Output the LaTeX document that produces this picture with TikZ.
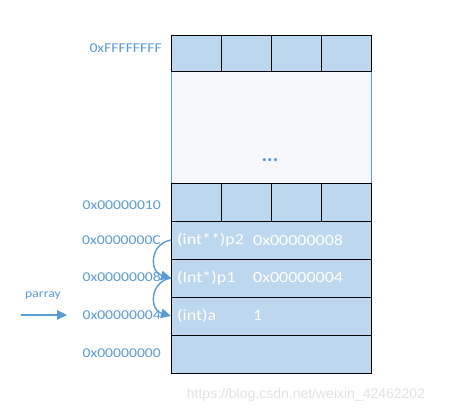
\documentclass[tikz,border=0pt]{standalone}
\usepackage{fontspec}
\setmainfont{Carlito}
\newfontfamily\memfont[FakeStretch=1.16]{Carlito}
\newfontfamily\markfont{Liberation Sans}
\usetikzlibrary{arrows.meta,positioning}
\definecolor{cellblue}{HTML}{BDD7EE}
\definecolor{memblue}{HTML}{5B9BD5}
\definecolor{gapwhite}{HTML}{F7F8FC}
\tikzstyle{cell} = [rectangle, draw, fill=cellblue, line width=0.9pt,
    minimum width=50pt, minimum height=36pt, inner sep=0pt, outer sep=0pt]
\tikzstyle{slot} = [cell, minimum width=200pt, minimum height=38pt]
\tikzstyle{addr} = [text=memblue, font=\memfont\fontsize{13.5}{16}\selectfont,
    inner sep=0pt, anchor=east]
\tikzstyle{val} = [text=white, font=\memfont\fontsize{15.5}{18}\selectfont,
    inner sep=0pt, anchor=west]
\tikzstyle{ptr} = [-{Triangle[length=10pt,width=9.5pt]}, memblue, line width=1.4pt]

\begin{document}
\begin{tikzpicture}[x=1pt,y=-1pt]
  \useasboundingbox (0,0) rectangle (449,415);

  % free area between the top and the low words
  \node[rectangle, draw=memblue, line width=0.5pt, fill=gapwhite,
        minimum width=200pt, minimum height=112pt] (gap) at (271,127) {};
  \node[text=memblue, font=\bfseries\fontsize{21}{24}\selectfont, anchor=base] (dots) at (270,161) {...};

  \node[cell]                  (t1) at (196,53) {};
  \node[cell,right=0pt of t1]  (t2) {};
  \node[cell,right=0pt of t2]  (t3) {};
  \node[cell,right=0pt of t3]  (t4) {};

  \node[cell,minimum height=38pt]                (m1) at (196,202) {};
  \node[cell,minimum height=38pt,right=0pt of m1] (m2) {};
  \node[cell,minimum height=38pt,right=0pt of m2] (m3) {};
  \node[cell,minimum height=38pt,right=0pt of m3] (m4) {};

  \node[slot] (p2) at (271,240) {};
  \node[slot] (p1) at (271,278) {};
  \node[slot] (a)  at (271,316) {};
  \node[slot] (z)  at (271,354) {};

  \node[val] (p2name) at (177,240) {(int**)p2};
  \node[val] (p2val)  at (253,240) {0x00000008};
  \node[val] (p1name) at (177,278) {(Int*)p1};
  \node[val] (p1val)  at (253,278) {0x00000004};
  \node[val] (aname)  at (177,316) {(int)a};
  \node[val] (aval)   at (253,316) {1};

  \node[addr] (aF)  at (162,48)  {0xFFFFFFFF};
  \node[addr] (a10) at (161,205) {0x00000010};
  \node[addr] (aC)  at (161,240) {0x0000000C};
  \node[addr] (a8)  at (161,277) {0x00000008};
  \node[addr] (a4)  at (161,315) {0x00000004};
  \node[addr] (a0)  at (161,353) {0x00000000};

  \draw[ptr] (p2.west) to[out=190,in=165,looseness=1.5] (p1.west);
  \draw[ptr] (p1.west) to[out=190,in=165,looseness=1.5] (a.west);

  \node[text=memblue, font=\memfont\fontsize{11.8}{14}\selectfont] (parray) at (43,296) {parray};
  \coordinate (pstart) at (21,315);
  \coordinate (pend) at (67,315);
  \draw[ptr] (pstart) -- (pend);

  \node[text=black!11, font=\markfont\fontsize{14}{16}\selectfont] (mark) at (306,395) {https://blog.csdn.net/weixin\_42462202};
\end{tikzpicture}
\end{document}
